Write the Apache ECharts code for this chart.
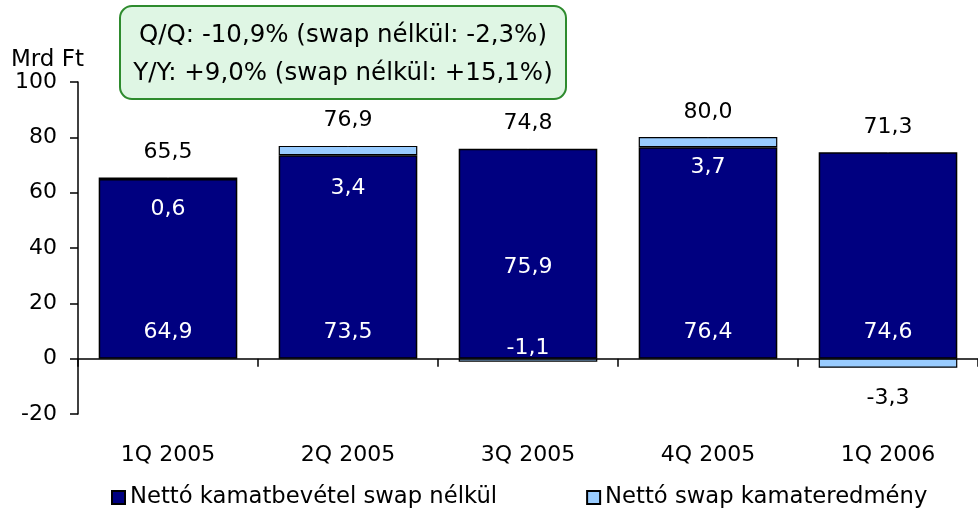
<!DOCTYPE html>
<html>
<head>
<meta charset="utf-8">
<script src="https://cdn.jsdelivr.net/npm/echarts@6/dist/echarts.min.js"></script>
<style>
  html, body { margin: 0; padding: 0; background: #fff; overflow: hidden; }
  #main { width: 978px; height: 513px; }
</style>
</head>
<body>
<div id="main"></div>
<script>
// adatok (Mrd Ft)
var quarters = ['1Q 2005', '2Q 2005', '3Q 2005', '4Q 2005', '1Q 2006'];
var netInterest = [64.9, 73.5, 75.9, 76.4, 74.6];   // Nettó kamatbevétel swap nélkül
var swapResult = [0.6, 3.4, -1.1, 3.7, -3.3];       // Nettó swap kamateredmény
var totals = [65.5, 76.9, 74.8, 80.0, 71.3];
var yTicks = { min: -20, max: 100, step: 20 };
var boxLines = ['Q/Q: -10,9% (swap nélkül: -2,3%)', 'Y/Y: +9,0% (swap nélkül: +15,1%)'];

// címkék elhelyezése
var swapLabelShift = [31, 38, -12, 25, 35];
var FONT = 'DejaVu Sans';

function fmt(v) {
  return v.toFixed(1).replace('.', ',');
}

var navyData = netInterest.map(function (v, i) {
  var lbl = (i == 2)
    ? { position: 'inside', offset: [0, 14] }
    : { position: 'insideBottom', distance: 15 };
  return { value: v, label: lbl };
});

var swapData = swapResult.map(function (v, i) {
  return {
    value: v,
    label: {
      position: 'inside',
      offset: [0, swapLabelShift[i]],
      color: (i == 4) ? '#000' : '#fff'
    }
  };
});

// összeg címke a pozitív oszlop tetején
var topData = netInterest.map(function (v, i) {
  return v + Math.max(swapResult[i], 0);
});

var chart = echarts.init(document.getElementById('main'));

var option = {
  animation: false,
  textStyle: { fontFamily: FONT },
  grid: { left: 78, right: -5, top: 82, bottom: 99, containLabel: false },
  legend: {
    left: 106,
    top: 481,
    itemWidth: 13,
    itemHeight: 13,
    itemGap: 89,
    icon: 'rect',
    textStyle: { fontFamily: FONT, fontSize: 22.7, color: '#000' },
    data: ['Nettó kamatbevétel swap nélkül', 'Nettó swap kamateredmény']
  },
  xAxis: [
    {
      // vonal és osztások a nullánál
      type: 'category',
      data: quarters,
      axisLine: { onZero: true, lineStyle: { color: '#000', width: 1.5 } },
      axisTick: { show: true, length: 8, lineStyle: { color: '#000', width: 1.5 } },
      axisLabel: { show: false },
      splitLine: { show: false }
    },
    {
      // feliratok alul
      type: 'category',
      data: quarters,
      position: 'bottom',
      axisLine: { show: false, onZero: false },
      axisTick: { show: false },
      axisLabel: { margin: 30, fontSize: 22, color: '#000', fontFamily: FONT },
      splitLine: { show: false }
    }
  ],
  yAxis: {
    type: 'value',
    min: yTicks.min,
    max: yTicks.max,
    interval: yTicks.step,
    name: 'Mrd Ft',
    nameLocation: 'end',
    nameGap: 9,
    nameTextStyle: { fontFamily: FONT, fontSize: 23, color: '#000', align: 'center', padding: [0, 61, 0, 0] },
    axisLine: { show: true, lineStyle: { color: '#000', width: 1.5 } },
    axisTick: { show: true, length: 8, lineStyle: { color: '#000', width: 1.5 } },
    axisLabel: { margin: 21, fontSize: 22, color: '#000', fontFamily: FONT },
    splitLine: { show: false }
  },
  series: [
    {
      name: 'Nettó kamatbevétel swap nélkül',
      type: 'bar',
      stack: 'total',
      barCategoryGap: '23%',
      itemStyle: { color: '#000080', borderColor: '#000', borderWidth: 1.5 },
      label: {
        show: true,
        color: '#fff',
        fontSize: 22,
        fontFamily: FONT,
        formatter: function (p) { return fmt(p.value); }
      },
      data: navyData
    },
    {
      name: 'Nettó swap kamateredmény',
      type: 'bar',
      stack: 'total',
      itemStyle: { color: '#99CCFF', borderColor: '#000', borderWidth: 1.2 },
      label: {
        show: true,
        fontSize: 22,
        fontFamily: FONT,
        formatter: function (p) { return fmt(p.value); }
      },
      data: swapData
    },
    {
      name: 'összesen',
      type: 'scatter',
      symbolSize: 0.5,
      itemStyle: { color: '#fff', opacity: 1 },
      label: {
        show: true,
        position: 'top',
        distance: 14,
        color: '#000',
        opacity: 1,
        fontSize: 22,
        fontFamily: FONT,
        formatter: function (p) { return fmt(totals[p.dataIndex]); }
      },
      silent: true,
      z: 5,
      data: topData
    }
  ],
  graphic: [
    {
      type: 'group',
      left: 119,
      top: 5,
      children: [
        {
          type: 'rect',
          shape: { x: 0, y: 0, width: 446, height: 93, r: 12 },
          style: { fill: '#DFF6E4', stroke: '#2E8B2E', lineWidth: 2 }
        },
        {
          type: 'text',
          x: 223, y: 30,
          style: { text: boxLines[0], font: '24.5px "DejaVu Sans"', fill: '#000', align: 'center', verticalAlign: 'middle' }
        },
        {
          type: 'text',
          x: 223, y: 68,
          style: { text: boxLines[1], font: '24.5px "DejaVu Sans"', fill: '#000', align: 'center', verticalAlign: 'middle' }
        }
      ]
    }
  ]
};

chart.setOption(option);
</script>
</body>
</html>
